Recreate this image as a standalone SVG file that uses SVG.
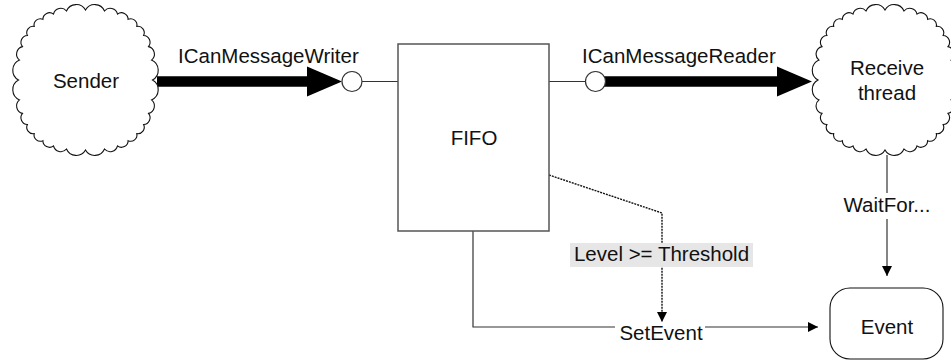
<svg xmlns="http://www.w3.org/2000/svg" xmlns:xlink="http://www.w3.org/1999/xlink" width="951" height="362" viewBox="0 0 951 362">
  <style>
    text { font-family: "Liberation Sans", Arial, sans-serif; font-size: 20.5px; fill: #111; }
    .mid { text-anchor: middle; }
    .cloud { fill: #fff; stroke: #111; stroke-width: 1.1; }
    .box { fill: #fff; stroke: #555; stroke-width: 1.5; }
    .thin { fill: none; stroke: #333; stroke-width: 1.2; }
    .dotted { fill: none; stroke: #111; stroke-width: 1.4; stroke-dasharray: 2 1; }
    .thick { fill: none; stroke: #000; stroke-width: 10.5; }
    .head { fill: #000; stroke: none; }
    .lolli { fill: #fff; stroke: #333; stroke-width: 1.2; }
  </style>
  <defs>
    <!-- scalloped cloud outline, centred on the origin -->
    <path id="cloud" d="M67,0
      A11.1,11.1 0 0 1 66,19.9 A7.7,7.7 0 0 1 63,33.4 A6.8,6.8 0 0 1 58.1,44.5 A6.4,6.4 0 0 1 51.3,53.6
      A6.3,6.3 0 0 1 42.6,60.7 A6.6,6.6 0 0 1 32,65.9 A7.5,7.5 0 0 1 19,69 A10.6,10.6 0 0 1 0,70
      A10.6,10.6 0 0 1 -19,69 A7.5,7.5 0 0 1 -32,65.9 A6.6,6.6 0 0 1 -42.6,60.7 A6.3,6.3 0 0 1 -51.3,53.6
      A6.4,6.4 0 0 1 -58.1,44.5 A6.8,6.8 0 0 1 -63,33.4 A7.7,7.7 0 0 1 -66,19.9 A11.1,11.1 0 0 1 -67,0
      A11.1,11.1 0 0 1 -66,-19.9 A7.7,7.7 0 0 1 -63,-33.4 A6.8,6.8 0 0 1 -58.1,-44.5 A6.4,6.4 0 0 1 -51.3,-53.6
      A6.3,6.3 0 0 1 -42.6,-60.7 A6.6,6.6 0 0 1 -32,-65.9 A7.5,7.5 0 0 1 -19,-69 A10.6,10.6 0 0 1 0,-70
      A10.6,10.6 0 0 1 19,-69 A7.5,7.5 0 0 1 32,-65.9 A6.6,6.6 0 0 1 42.6,-60.7 A6.3,6.3 0 0 1 51.3,-53.6
      A6.4,6.4 0 0 1 58.1,-44.5 A6.8,6.8 0 0 1 63,-33.4 A7.7,7.7 0 0 1 66,-19.9 A11.1,11.1 0 0 1 67,0 Z"/>
    <marker id="arrow" viewBox="0 0 10 10" refX="10" refY="5" markerWidth="10" markerHeight="10" markerUnits="userSpaceOnUse" orient="auto">
      <path d="M0,0 L10,5 L0,10 Z" fill="#000"/>
    </marker>
  </defs>

  <!-- connectors -->
  <g id="connectors">
    <!-- Sender -> ICanMessageWriter -> FIFO -->
    <line class="thick" x1="157" y1="81.5" x2="308" y2="81.5"/>
    <polygon class="head" points="307,66.5 342,81.5 307,96.5"/>
    <line class="thin" x1="362" y1="81.5" x2="398" y2="81.5"/>
    <circle class="lolli" cx="352" cy="81.5" r="10"/>
    <text x="178" y="63">ICanMessageWriter</text>

    <!-- FIFO -> ICanMessageReader -> Receive thread -->
    <line class="thin" x1="549" y1="81.5" x2="586" y2="81.5"/>
    <line class="thick" x1="604" y1="81.5" x2="778" y2="81.5"/>
    <polygon class="head" points="777,66.5 812,81.5 777,96.5"/>
    <circle class="lolli" cx="595.5" cy="81.5" r="10"/>
    <text x="582" y="63">ICanMessageReader</text>

    <!-- Receive thread waits for Event -->
    <line class="thin" x1="887" y1="155" x2="887" y2="276" marker-end="url(#arrow)"/>
    <rect x="840" y="193" width="94" height="26" fill="#fff"/>
    <text class="mid" x="887" y="212">WaitFor...</text>

    <!-- FIFO sets Event -->
    <polyline class="thin" points="473,231 473,327 818,327" marker-end="url(#arrow)"/>
    <rect x="615" y="319" width="90" height="26" fill="#fff"/>
    <text class="mid" x="661" y="340">SetEvent</text>

    <!-- threshold condition -->
    <polyline class="dotted" points="549,175 662,213 662,322" marker-end="url(#arrow)"/>
    <rect x="570" y="243" width="183" height="24" fill="#e6e6e6"/>
    <text class="mid" x="661.5" y="261">Level &gt;= Threshold</text>
  </g>

  <!-- nodes -->
  <g id="sender">
    <use xlink:href="#cloud" href="#cloud" class="cloud" transform="translate(85.5,80)"/>
    <text class="mid" x="86" y="88">Sender</text>
  </g>

  <g id="fifo">
    <rect class="box" x="398" y="44" width="151" height="187"/>
    <text class="mid" x="474" y="145">FIFO</text>
  </g>

  <g id="receive-thread">
    <use xlink:href="#cloud" href="#cloud" class="cloud" transform="translate(885,80)"/>
    <text class="mid" x="887" y="75">Receive</text>
    <text class="mid" x="887" y="100">thread</text>
  </g>

  <g id="event">
    <rect x="830" y="288" width="113" height="71" rx="20" ry="20" fill="#fff" stroke="#111" stroke-width="1.1"/>
    <text class="mid" x="887" y="334">Event</text>
  </g>
</svg>
